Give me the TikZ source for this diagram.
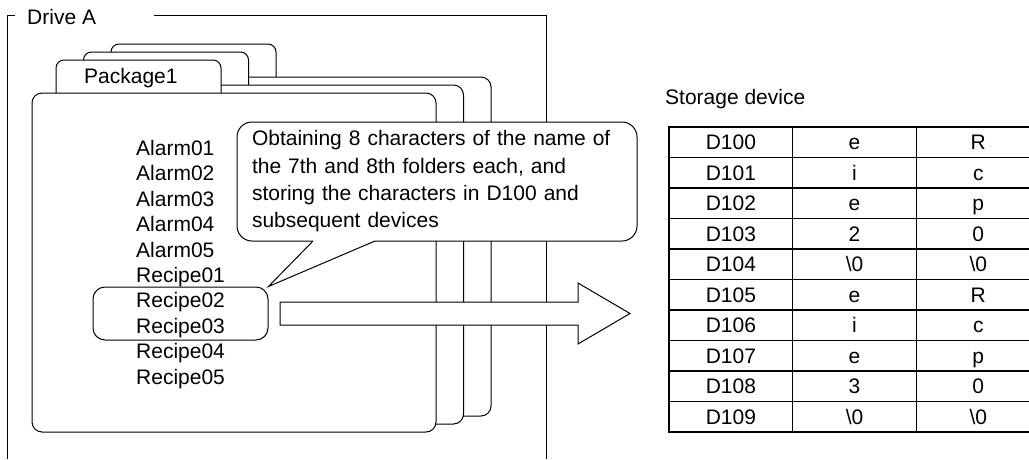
\documentclass[tikz,border=0pt]{standalone}
\usepackage{fontspec}
\setmainfont{Liberation Sans}
\newcommand\bzero{\textbackslash0}
\tikzset{
  every node/.style={font=\fontsize{21}{25.4}\selectfont, inner sep=0pt},
  ln/.style={line width=1pt},
  item/.style={anchor=base west},
  folder/.style={draw, fill=white, line width=1pt},
  cell/.style={draw, line width=1.3pt, minimum width=123.7pt, minimum height=30.5pt,
    text height=15pt, text depth=0pt},
}
\begin{document}
\begin{tikzpicture}[x=1pt,y=-1pt]
\path[use as bounding box] (0,0) rectangle (1029,459);
\clip (0,0) rectangle (1029,459);
% Drive A frame
\node[anchor=base west] (drive) at (27,24) {Drive A};
\draw[ln] (7,459) -- (7,15) -- (15,15);
\draw[ln] (154,15) -- (546,15) -- (546,459);
% folders, back to front
\foreach \i in {2,1,0}{
  \pgfmathsetmacro\dx{27.5*\i}
  \pgfmathsetmacro\dy{-8*\i}
  \draw[folder, rounded corners=8pt] ({56+\dx},{93+\dy}) -- ({56+\dx},{60+\dy}) -- ({221+\dx},{60+\dy}) -- ({221+\dx},{93+\dy});
  \draw[folder, rounded corners=10pt] ({32+\dx},{93+\dy}) rectangle ({436+\dx},{432+\dy});
}
\node[anchor=base west] (pkg) at (84,83) {Package1};
% list of items
\foreach \t [count=\k from 0] in {Alarm01,Alarm02,Alarm03,Alarm04,Alarm05,Recipe01,Recipe02,Recipe03,Recipe04,Recipe05}{
  \node[item] (it\k) at (136,{155.5+25.4*\k}) {\t};
}
\node[draw, ln, rounded corners=12pt, minimum width=175pt, minimum height=53pt] (rbox) at (180.5,313.5) {};
% speech bubble
\node[draw, ln, fill=white, rounded corners=15pt, minimum width=400pt, minimum height=119pt,
  text width=370pt, inner xsep=15pt, align=left, font=\fontsize{21}{27.3}\selectfont] (bubble) at (437,181.5)
  {Obtaining 8 characters of the name of\\the 7th and 8th folders each, and\\storing the characters in D100 and\\subsequent devices};
\fill[white] (313,238) -- (313,241) -- (rbox.north east) -- (375,241) -- (375,238) -- cycle;
\draw[ln] (313,241) -- (rbox.north east) -- (375,241);
% big arrow
\draw[ln, fill=white] (280,302) -- (578,302) -- (578,283) -- (630,313.5) -- (578,344) -- (578,325) -- (280,325) -- cycle;
% storage table
\node[anchor=base west] (stor) at (665,104.5) {Storage device};
\foreach \a/\b/\c [count=\r from 0] in {D100/e/R, D101/i/c, D102/e/p, D103/2/0, D104/\bzero/\bzero,
  D105/e/R, D106/i/c, D107/e/p, D108/3/0, D109/\bzero/\bzero}{
  \node[cell] (ta\r) at (730.85,{142.25+30.5*\r}) {\a};
  \node[cell] (tb\r) at (854.55,{142.25+30.5*\r}) {\b};
  \node[cell] (tc\r) at (978.25,{142.25+30.5*\r}) {\c};
}
\end{tikzpicture}
\end{document}
